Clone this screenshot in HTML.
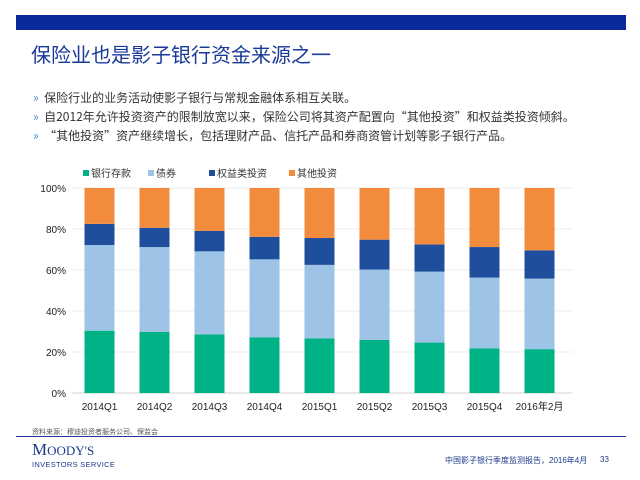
<!DOCTYPE html>
<html><head><meta charset="utf-8"><style>
body{margin:0;width:640px;height:480px;background:#fff;position:relative;overflow:hidden;font-family:"Liberation Sans","Noto Sans CJK SC",sans-serif}
.a{position:absolute;white-space:nowrap}
.b{font-family:"Noto Sans CJK SC",sans-serif;font-size:12px;color:#333;line-height:14px}
</style></head><body>
<div class="a" style="left:16px;top:15px;width:610px;height:15px;background:#0a2a9c"></div>
<div class="a" style="left:31px;top:39px;font-size:20px;color:#1a3a9a">保险业也是影子银行资金来源之一</div>
<div>
<div class="a b" style="left:33px;top:91px"><span style="color:#3a8ad0">»</span>&nbsp;&nbsp;保险行业的业务活动使影子银行与常规金融体系相互关联。</div>
<div class="a b" style="left:33px;top:110px"><span style="color:#3a8ad0">»</span>&nbsp;&nbsp;自2012年允许投资资产的限制放宽以来，保险公司将其资产配置向“其他投资”和权益类投资倾斜。</div>
<div class="a b" style="left:33px;top:129px"><span style="color:#3a8ad0">»</span>&nbsp;&nbsp;“其他投资”资产继续增长，包括理财产品、信托产品和券商资管计划等影子银行产品。</div>
</div>
<svg id="chart" class="a" style="left:0;top:0" width="640" height="480"></svg>
<div class="a" style="left:32px;top:427px;font-size:7px;color:#555">资料来源：穆迪投资者服务公司、保监会</div>
<div class="a" style="left:16px;top:436px;width:610px;height:1px;background:#1a3a9a"></div>
<div class="a" style="left:32px;top:441px;color:#1a3a8a">
<div style="font-family:'Liberation Serif',serif;font-size:17px;line-height:18px">M<span style="font-size:13px">OODY'S</span></div>
<div style="font-size:7.5px;letter-spacing:0.3px">INVESTORS SERVICE</div></div>
<div class="a" style="left:445px;top:455px;font-size:8px;color:#1a3a8a">中国影子银行季度监测报告，2016年4月</div>
<div class="a" style="left:600px;top:455px;font-size:8px;color:#1a3a8a">33</div>
<script>
const categories=["2014Q1","2014Q2","2014Q3","2014Q4","2015Q1","2015Q2","2015Q3","2015Q4","2016年2月"];
const deposits=[30.4,29.8,28.6,27.2,26.7,25.9,24.6,21.8,21.4];
const bonds=[41.8,41.4,40.5,38.0,35.8,34.3,34.6,34.5,34.4];
const equity=[10.3,9.4,10.0,11.0,13.1,14.6,13.3,14.9,13.8];
const series=[deposits,bonds,equity];
const seriesNames=["银行存款","债券","权益类投资","其他投资"];
const colors=["#00b386","#9dc3e6","#1f4e9c","#f38b3c"];
const ticks=[0,20,40,60,80,100];
const svg=document.getElementById('chart');const NS="http://www.w3.org/2000/svg";
const y0=393,y1=188,x0=72,step=55,bw=30;
const Y=v=>y0-(v/100)*(y0-y1);
const X=i=>x0+step*(i+0.5);
function mk(t,a){const e=document.createElementNS(NS,t);for(const k in a)e.setAttribute(k,a[k]);svg.appendChild(e);return e;}
ticks.forEach(t=>{
const l=mk('line',{x1:x0,x2:x0+step*9+5,y1:Y(t),y2:Y(t),stroke:t===0?'#d0d0d0':'#eeeeee','stroke-width':1});


const tx=mk('text',{x:66,y:Y(t)+4,'text-anchor':'end','font-size':10,fill:'#222'});tx.textContent=t+'%';


});
categories.forEach((c,i)=>{
let acc=0;
for(let s=0;s<4;s++){
const v=s<3?series[s][i]:100-acc;
const r=mk('rect',{x:X(i)-bw/2,y:Y(acc+v),width:bw,height:Y(acc)-Y(acc+v),fill:colors[s]});


acc+=v;}
const tx=mk('text',{x:X(i),y:410,'text-anchor':'middle','font-size':10,fill:'#222'});tx.textContent=c;


});
const lx=[83,148,209,289];
seriesNames.forEach((n,i)=>{
const r=mk('rect',{x:lx[i],y:170,width:6,height:6,fill:colors[i]});


const t=mk('text',{x:lx[i]+8,y:177,'font-size':10,fill:'#333'});t.textContent=n;


});
</script>
</body></html>
